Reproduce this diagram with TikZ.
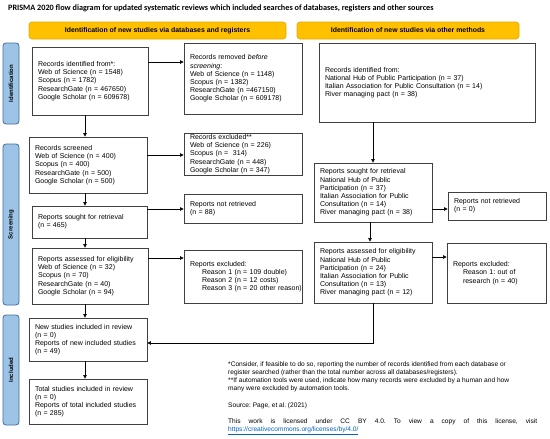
\documentclass[tikz,border=0pt]{standalone}
\usepackage{fontspec}
\setmainfont{Liberation Sans}
\newfontfamily\titlefont{Carlito}
\usetikzlibrary{arrows.meta}
\definecolor{boxline}{HTML}{404040}
\definecolor{hdrfill}{HTML}{FFC000}
\definecolor{hdrline}{HTML}{E0A800}
\definecolor{barfill}{HTML}{9DC3E6}
\definecolor{barline}{HTML}{41719C}
\definecolor{linkblue}{HTML}{0563C1}
\frenchspacing
\begin{document}
\begin{tikzpicture}[x=1pt,y=-1pt,
 box/.style={draw=boxline, line width=0.8pt, fill=white, align=left, inner xsep=6pt, inner ysep=1pt, font=\fontsize{7}{8.2}\selectfont},
 sz/.style n args={3}{minimum width=#1pt, minimum height=#2pt, text width=#3pt},
 hdr/.style={draw=hdrline, fill=hdrfill, rounded corners=3pt, line width=0.6pt, font=\bfseries\fontsize{6.9}{8}\selectfont, minimum height=17pt, inner sep=0pt},
 bar/.style={draw=barline, fill=barfill, rounded corners=3pt, line width=0.8pt, rotate=90, minimum height=16pt, inner sep=0pt, font=\bfseries\fontsize{6}{7}\selectfont},
 arr/.style={draw=black, line width=0.6pt, -{Triangle[length=3.5pt,width=3.5pt]}},
 note/.style={anchor=base west, inner sep=0pt, font=\fontsize{6.6}{8.2}\selectfont},
]
\useasboundingbox (0,0) rectangle (550,439);
\fill[white] (0,0) rectangle (550,439);

\node[anchor=west, inner sep=0pt, font=\titlefont\bfseries\fontsize{8.2}{9}\selectfont] (title) at (8,8) {PRISMA 2020 flow diagram for updated systematic reviews which included searches of databases, registers and other sources};

\node[hdr, minimum width=257pt] (hl) at (157.5,30.5) {Identification of new studies via databases and registers};
\node[hdr, minimum width=222pt] (hr) at (408,30.5) {Identification of new studies via other methods};

\node[bar, minimum width=81pt] (b1) at (11,83.5) {Identification};
\node[bar, minimum width=161pt] (b2) at (11,224.5) {Screening};
\node[bar, minimum width=110pt] (b3) at (11,370) {Included};

\node[box, sz={116}{68}{104}] (A) at (90,81) {Records identified from*:\\Web of Science (n = 1548)\\Scopus (n = 1782)\\ResearchGate (n = 467650)\\Google Scholar (n = 609678)};
\node[box, sz={118}{71}{106}] (B) at (243,78.5) {Records removed \textit{before}\\\textit{screening}:\\Web of Science (n = 1148)\\Scopus (n = 1382)\\ResearchGate (n =467150)\\Google Scholar (n = 609178)};
\node[box, sz={118}{56}{106}] (C) at (88,165) {Records screened\\Web of Science (n = 400)\\Scopus (n = 400)\\ResearchGate (n = 500)\\Google Scholar (n = 500)};
\node[box, sz={118}{42}{106}] (D) at (243,154) {Records excluded**\\Web of Science (n = 226)\\Scopus (n = \ 314)\\ResearchGate (n = 448)\\Google Scholar (n = 347)};
\node[box, sz={115}{32}{103}] (E) at (89.5,222) {Reports sought for retrieval\\(n = 465)};
\node[box, sz={118}{29}{106}] (F) at (243,208.5) {Reports not retrieved\\(n = 88)};
\node[box, sz={116}{56}{104}] (G) at (90,276) {Reports assessed for eligibility\\Web of Science (n = 32)\\Scopus (n = 70)\\ResearchGate (n = 40)\\Google Scholar (n = 94)};
\node[box, sz={118}{53}{106}] (H) at (243,276.5) {Reports excluded:\\\mbox{\hspace*{12pt}Reason 1 (n = 109 double)}\\\mbox{\hspace*{12pt}Reason 2 (n = 12 costs)}\\\mbox{\hspace*{12pt}Reason 3 (n = 20 other reason)}};
\node[box, sz={118}{43}{106}] (I) at (88,339.5) {New studies included in review\\(n = 0)\\Reports of new included studies\\(n = 49)};
\node[box, sz={118}{45}{106}] (J) at (88,401.5) {Total studies included in review\\(n = 0)\\Reports of total included studies\\(n = 285)};

\node[box, sz={216}{79}{204}] (K) at (427,82.5) {Records identified from:\\National Hub of Public Participation (n = 37)\\Italian Association for Public Consultation (n = 14)\\River managing pact (n = 38)};
\node[box, sz={118}{59}{106}] (L) at (373,192.5) {Reports sought for retrieval\\National Hub of Public\\Participation (n = 37)\\Italian Association for Public\\Consultation (n = 14)\\River managing pact (n = 38)};
\node[box, sz={98}{28}{86}] (M) at (497,206) {Reports not retrieved\\(n = 0)};
\node[box, sz={118}{61}{106}] (N) at (373,272.5) {Reports assessed for eligibility\\National Hub of Public\\Participation (n = 24)\\Italian Association for Public\\Consultation (n = 13)\\River managing pact (n = 12)};
\node[box, sz={99}{60}{87}] (O) at (496.5,273) {Reports excluded:\\\hspace*{10pt}Reason 1: out of\\\hspace*{10pt}research (n = 40)};

\draw[arr] (A.east |- 0,62) -- (B.west |- 0,62);
\draw[arr] (A.south -| 85,0) -- (C.north -| 85,0);
\draw[arr] (C.east |- 0,155) -- (D.west |- 0,155);
\draw[arr] (C.south -| 85,0) -- (E.north -| 85,0);
\draw[arr] (E.east |- 0,209) -- (F.west |- 0,209);
\draw[arr] (E.south -| 85,0) -- (G.north -| 85,0);
\draw[arr] (G.east |- 0,258) -- (H.west |- 0,258);
\draw[arr] (G.south -| 85,0) -- (I.north -| 85,0);
\draw[arr] (I.south -| 85,0) -- (J.north -| 85,0);

\draw[arr] (K.south -| 373,0) -- (L.north -| 373,0);
\draw[arr] (L.east |- 0,209) -- (M.west |- 0,209);
\draw[arr] (L.south -| 370,0) -- (N.north -| 370,0);
\draw[arr] (N.east |- 0,257) -- (O.west |- 0,257);
\draw[arr] (N.south -| 373,0) |- (I.east |- 0,343);

\node[note] (n1) at (228,366) {*Consider, if feasible to do so, reporting the number of records identified from each database or};
\node[note] (n2) at (228,374.3) {register searched (rather than the total number across all databases/registers).};
\node[note] (n3) at (228,382.6) {**If automation tools were used, indicate how many records were excluded by a human and how};
\node[note] (n4) at (228,390.9) {many were excluded by automation tools.};
\node[note] (n5) at (228,407) {Source: Page, et al. (2021)};
\node[note] (n6) at (228,423) {\makebox[309pt][s]{This work is licensed under CC BY 4.0. To view a copy of this license, visit}};
\node[note] (n7) at (228,431.5) {\textcolor{linkblue}{\underline{https://creativecommons.org/licenses/by/4.0/}}};
\end{tikzpicture}
\end{document}
